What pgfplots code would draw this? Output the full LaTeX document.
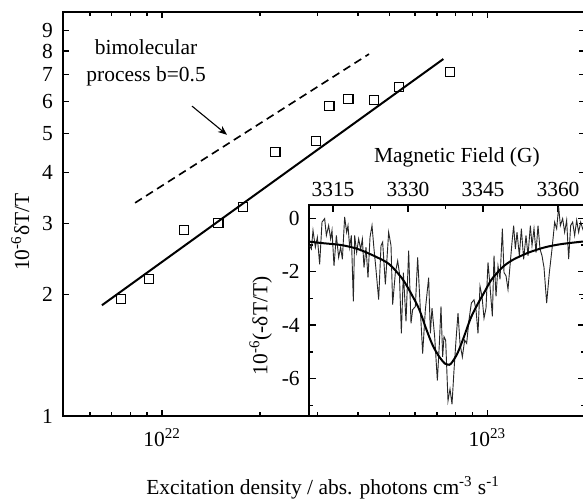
\documentclass[border=0pt]{standalone}
\usepackage{fontspec}
\setmainfont{Liberation Serif}
\usepackage{pgfplots}
\pgfplotsset{compat=1.18}
\usetikzlibrary{arrows.meta}

\begin{document}
\fontsize{11.8}{14}\selectfont
\begin{tikzpicture}[font=\fontsize{11.8}{14}\selectfont]
% ---------------- inset ----------------
\begin{axis}[
  at={(135.3pt,0pt)}, anchor=south west,
  scale only axis, width=151.8pt, height=116.05pt,
  xmin=3310.2, xmax=3365.4, ymin=-7.4, ymax=0.5,
  axis background/.style={fill=white},
  axis line style={line width=1.1pt},
  xtick={3315,3330,3345,3360}, xticklabels={3315,3330,3345,3360},
  minor xtick={3322.5,3337.5,3352.5},
  xtick pos=right, xticklabel pos=right,
  ytick={0,-2,-4,-6}, yticklabels={0,-2,-4,-6},
  minor ytick={-1,-3,-5,-7},
  tick align=inside,
  major tick length=3.85pt, minor tick length=2.4pt,
  every tick/.style={black, line width=0.8pt},
  yticklabel style={xshift=-1pt},
  xticklabel style={yshift=0.5pt},
  xlabel={Magnetic Field (G)},
  xlabel style={at={(axis description cs:0.536,1.227)}, anchor=center},
  ylabel={10\textsuperscript{-6}(-δT/T)},
  ylabel style={at={(axis description cs:-0.175,0.427)}, anchor=center},
]
\addplot[black!85, line width=0.5pt] coordinates {
(3310.33,-1.02) (3310.67,-1.15) (3311.0,-0.45) (3311.47,-1.08) (3311.87,-0.71)
(3312.33,-1.72) (3312.8,-0.14) (3313.33,-0.01) (3313.67,-0.64) (3314.13,-0.27)
(3314.53,-0.77) (3314.8,-0.45) (3315.2,-1.78) (3315.67,-0.64) (3316.13,-1.46)
(3316.53,-1.08) (3316.87,-1.53) (3317.33,0.05) (3317.73,-0.52) (3318.0,-0.27)
(3318.33,-1.08) (3318.67,-0.64) (3319.07,-3.11) (3319.33,-0.64) (3319.73,-1.28)
(3320.13,-0.77) (3320.53,-1.15) (3320.87,-0.77) (3321.2,-1.84) (3321.6,-1.08)
(3322.0,-2.22) (3322.4,-0.71) (3322.8,-0.27) (3323.2,-1.15) (3323.53,-1.78)
(3324.13,-3.04) (3324.6,-1.02) (3324.93,-0.89) (3325.47,-2.47) (3326.13,-0.52)
(3326.6,-1.02) (3326.93,-3.23) (3327.47,-2.03) (3327.93,-1.59) (3328.27,-2.03)
(3328.67,-4.31) (3329.07,-2.03) (3329.6,-3.86) (3330.13,-1.21) (3330.6,-3.93)
(3330.93,-3.42) (3331.47,-3.30) (3331.93,-1.46) (3332.4,-3.17) (3332.93,-5.06)
(3333.47,-3.42) (3334.13,-2.22) (3334.47,-4.31) (3334.8,-3.36) (3335.33,-4.43)
(3335.87,-6.07) (3336.27,-4.69) (3336.6,-3.30) (3336.93,-5.19) (3337.2,-4.43)
(3337.53,-4.56) (3338.0,-6.83) (3338.4,-6.39) (3338.8,-6.96) (3339.2,-5.69)
(3339.6,-4.56) (3340.0,-3.55) (3340.4,-4.68) (3340.87,-5.19) (3341.33,-4.56)
(3341.73,-4.68) (3342.2,-3.80) (3342.67,-3.17) (3343.2,-3.05) (3343.6,-3.42)
(3344.0,-4.31) (3344.4,-2.54) (3344.8,-2.92) (3345.2,-3.74) (3345.6,-3.36)
(3346.0,-1.65) (3346.4,-2.54) (3346.87,-3.67) (3347.2,-1.40) (3347.6,-2.92)
(3348.0,-1.78) (3348.4,-2.28) (3348.87,-0.39) (3349.2,-2.03) (3349.6,-2.15)
(3350.0,-2.66) (3350.4,-1.78) (3350.8,-0.90) (3351.13,-0.27) (3351.47,-1.15)
(3351.8,-0.52) (3352.27,-1.40) (3352.67,-0.39) (3353.13,-1.53) (3353.6,-0.64)
(3354.0,-1.40) (3354.47,-0.27) (3354.8,-1.02) (3355.2,-0.39) (3355.6,-1.28)
(3356.0,-0.27) (3356.4,-1.15) (3356.8,-1.40) (3357.2,-1.84) (3357.73,-3.17)
(3358.27,-2.03) (3358.8,-1.15) (3359.33,-0.14) (3359.73,-0.39) (3360.13,0.43)
(3360.47,-0.27) (3360.93,-0.01) (3361.33,-0.52) (3361.73,-0.07) (3362.13,-1.53)
(3362.53,-0.27) (3362.93,-0.14) (3363.33,-0.64) (3363.73,-0.07) (3364.13,-0.52)
(3364.53,-0.14) (3364.93,-0.39) (3365.4,-0.60)
};
\addplot[black, line width=1.1pt, smooth] coordinates {
(3310.2,-0.87) (3313.0,-0.93) (3316.67,-1.00) (3320.0,-1.15) (3323.6,-1.44)
(3326.27,-1.72) (3328.93,-2.28) (3330.93,-2.92) (3332.27,-3.42) (3333.6,-4.12)
(3334.93,-4.75) (3336.27,-5.19) (3337.4,-5.44) (3338.0,-5.48) (3338.6,-5.44)
(3339.87,-5.06) (3341.2,-4.43) (3342.53,-3.74) (3343.87,-3.23) (3345.2,-2.79)
(3346.53,-2.34) (3347.87,-2.03) (3349.2,-1.78) (3351.0,-1.55) (3354.13,-1.28)
(3357.47,-1.08) (3360.8,-0.96) (3365.4,-0.86)
};
\end{axis}
% ---------------- main axis ----------------
\begin{axis}[
  at={(0pt,0pt)}, anchor=south west,
  scale only axis, width=287.1pt, height=222.2pt,
  xmode=log, ymode=log,
  xmin=4.96e21, xmax=2.0e23, ymin=1, ymax=10,
  axis line style={line width=1.1pt},
  xtick={1e22,1e23}, xticklabels={10\textsuperscript{22},10\textsuperscript{23}},
  minor xtick={6e21,7e21,8e21,9e21,2e22,3e22,4e22,5e22,6e22,7e22,8e22,9e22},
  ytick={1,2,3,4,5,6,7,8,9,10}, yticklabels={1,2,3,4,5,6,7,8,9,{}},
  tick align=inside,
  major tick length=3.3pt, minor tick length=2.2pt,
  every tick/.style={black, line width=0.8pt},
  yticklabel style={xshift=-1.5pt},
  xticklabel style={yshift=-3pt},
  xlabel={Excitation density / abs. photons cm\textsuperscript{-3} s\textsuperscript{-1}},
  xlabel style={at={(axis description cs:0.498,-0.178)}, anchor=center},
  ylabel={10\textsuperscript{-6}δT/T},
  ylabel style={at={(axis description cs:-0.082,0.455)}, anchor=center},
]
\addplot[only marks, mark=square, mark size=2.5pt, mark options={line width=0.7pt, black}] coordinates {
(7.48e21,1.95) (9.12e21,2.18) (1.17e22,2.89) (1.49e22,3.00) (1.77e22,3.29)
(2.23e22,4.50) (2.98e22,4.79) (3.27e22,5.85) (3.74e22,6.09) (4.49e22,6.06)
(5.36e22,6.52) (7.69e22,7.10)
};
\addplot[black, line width=1.1pt] coordinates {(6.53e21,1.88) (7.33e22,7.65)};
\addplot[black, line width=0.9pt, dash pattern=on 4.4pt off 2.75pt] coordinates {(8.26e21,3.37) (4.33e22,7.87)};
\node[align=center, font=\fontsize{11.8}{14.85}\selectfont] at (rel axis cs:0.159,0.874) {bimolecular\\process b=0.5};
\draw[-{Stealth[length=5pt,width=4pt]}, line width=0.6pt] (rel axis cs:0.247,0.767) -- (rel axis cs:0.314,0.696);
\end{axis}
\pgfresetboundingbox
\path (-34.65pt,-46.2pt) rectangle (286pt,228.8pt);
\end{tikzpicture}
\end{document}
